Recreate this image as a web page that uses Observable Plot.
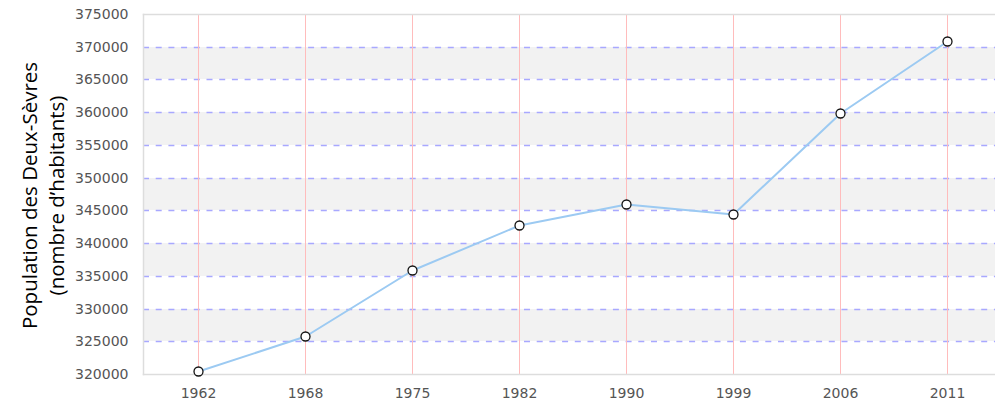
<!DOCTYPE html>
<html>
<head>
<meta charset="utf-8">
<script src="https://cdn.jsdelivr.net/npm/d3@7"></script>
<script src="https://cdn.jsdelivr.net/npm/@observablehq/plot@0.6"></script>
<style>
  html, body { margin: 0; padding: 0; background: #fff; overflow: hidden; }
  #chart { width: 995px; height: 407px; }
</style>
</head>
<body>
<div id="chart"></div>
<script>
const years = ["1962", "1968", "1975", "1982", "1990", "1999", "2006", "2011"];
const population = [320500, 325800, 335900, 342800, 346000, 344400, 359800, 370900];
const yTicks = [320000, 325000, 330000, 335000, 340000, 345000, 350000, 355000, 360000, 365000, 370000, 375000];
const yTitle = "Population des Deux-Sèvres\n(nombre d\u2019habitants)";

const data = years.map((y, i) => ({year: y, value: population[i]}));
// alternating shaded bands: every other tick interval, starting from the second one
const bands = yTicks.slice(0, -1).filter((t, i) => i % 2 === 1).map(t => ({y1: t, y2: t + 5000}));
const innerTicks = yTicks.slice(1, -1);

const chart = Plot.plot({
  width: 995,
  height: 407,
  marginLeft: 143,
  marginRight: 0,
  marginTop: 14,
  marginBottom: 33,
  style: {fontFamily: "DejaVu Sans", fontSize: "14px", color: "#555", background: "#fff"},
  x: {type: "point", domain: years, range: [197, 947], padding: 0, round: true, label: null},
  y: {domain: [320000, 375000], round: true, label: null},
  marks: [
    Plot.rect(bands, {y1: "y1", y2: "y2", fill: "#f2f2f2"}),
    Plot.ruleY(innerTicks, {stroke: "#a8a8ff", strokeDasharray: "6,6.7", strokeWidth: 1.5}),
    Plot.ruleX(years, {stroke: "#ffbcbc", strokeWidth: 1}),
    Plot.frame({anchor: "top", stroke: "#dddddd", strokeWidth: 1.5}),
    Plot.frame({anchor: "bottom", stroke: "#dddddd", strokeWidth: 1.5}),
    Plot.frame({anchor: "left", stroke: "#dddddd", strokeWidth: 1.5}),
    Plot.axisY(yTicks, {tickSize: 0, tickPadding: 15, tickFormat: d => String(d), fill: "#555", fontSize: 14}),
    Plot.axisX(years, {tickSize: 0, tickPadding: 14, fill: "#555", fontSize: 14}),
    Plot.line(data, {x: "year", y: "value", stroke: "#9ccaf2", strokeWidth: 2}),
    Plot.dot(data, {x: "year", y: "value", r: 4.5, fill: "#fff", stroke: "#111", strokeWidth: 1.3}),
    Plot.text([yTitle], {frameAnchor: "left", dx: -102, dy: 1, rotate: -90, textAnchor: "middle", lineAnchor: "middle", lineHeight: 1.33, fontSize: 20.5, fontFamily: "Open Sans", fill: "#000"})
  ]
});
document.getElementById("chart").appendChild(chart);
</script>
</body>
</html>
